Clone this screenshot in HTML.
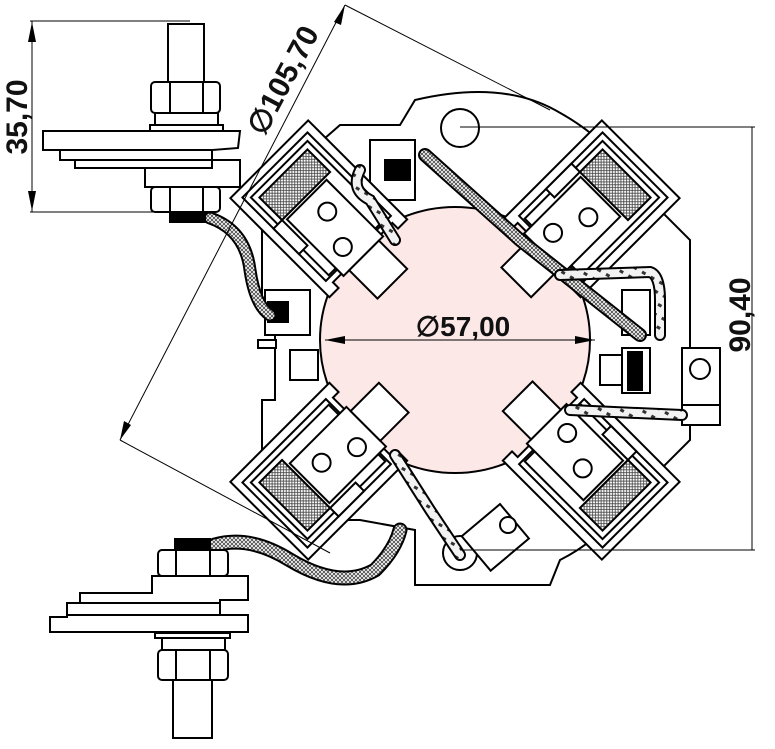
<!DOCTYPE html>
<html><head><meta charset="utf-8"><style>
html,body{margin:0;padding:0;background:#fff}
svg{display:block}
text{font-family:"Liberation Sans",sans-serif;font-weight:bold;fill:#111}
</style></head><body>
<svg width="775" height="749" viewBox="0 0 775 749" xmlns="http://www.w3.org/2000/svg">
<defs>
<pattern id="hx" width="4" height="4" patternUnits="userSpaceOnUse">
<rect width="4" height="4" fill="#fff"/><path d="M0 0L4 4M4 0L0 4" stroke="#444" stroke-width="0.8"/>
</pattern>
<pattern id="dt" width="10" height="10" patternUnits="userSpaceOnUse" patternTransform="rotate(30)">
<rect width="10" height="10" fill="#f2f2f2"/><rect x="2" y="3" width="4" height="3" fill="#333"/>
</pattern>
<g id="holder" stroke="#000" stroke-width="2" fill="#fff">
<path d="M-100 -55 L40 -55 L40 -42 L32 -42 L32 42 L40 42 L40 55 L-100 55 Z"/>
<rect x="-92" y="-46" width="118" height="92"/>
<rect x="-86" y="-40" width="110" height="80"/>
<rect x="-80" y="-34" width="32" height="68" fill="url(#hx)"/>
<rect x="-45" y="-26" width="80" height="56"/>
<circle cx="-22" cy="-4" r="9"/>
<circle cx="14" cy="10" r="9"/>
<rect x="35" y="-20" width="40" height="42"/>
<rect x="-48" y="34" width="36" height="12"/>
</g>
</defs>
<rect x="310" y="215" width="290" height="272" fill="#fde8e8"/>
<path d="M415 100 Q500 80 555 110 Q610 140 625 175 L690 240 L690 440 L630 500 Q600 540 560 560 L550 585 L415 585 L415 530 L360 520 L300 520 L262 482 L262 400 L275 400 L275 300 L262 300 L262 198 L300 160 L340 125 L400 125 Z" fill="#fff" stroke="#000" stroke-width="2"/>
<ellipse cx="455" cy="340" rx="135" ry="133" fill="#fde8e8" stroke="#000" stroke-width="2"/>
<circle cx="460" cy="128" r="19" fill="#fff" stroke="#000" stroke-width="2"/>
<circle cx="460" cy="553" r="17" fill="#fff" stroke="#000" stroke-width="2"/>
<g stroke="#000" stroke-width="2" fill="#fff">
<rect x="265" y="290" width="45" height="45"/><rect x="268" y="302" width="20" height="20" fill="#000"/>
<rect x="290" y="350" width="28" height="30"/><rect x="258" y="340" width="18" height="8"/>
<rect x="600" y="355" width="25" height="30"/><rect x="622" y="348" width="28" height="45"/><rect x="628" y="352" width="14" height="38" fill="#000"/>
<rect x="622" y="290" width="28" height="45"/>
<rect x="682" y="348" width="38" height="77"/><circle cx="700" cy="369" r="10"/><line x1="682" y1="405" x2="720" y2="405"/>
<rect x="370" y="140" width="45" height="60"/><rect x="385" y="160" width="25" height="20" fill="#000"/>
<rect x="470" y="515" width="50" height="45" transform="rotate(-40 495 537)"/><circle cx="508" cy="525" r="8"/>
</g>
<use href="#holder" transform="translate(340,230) rotate(45)"/>
<use href="#holder" transform="translate(570,230) rotate(135)"/>
<use href="#holder" transform="translate(340,450) rotate(-45)"/>
<use href="#holder" transform="translate(570,450) rotate(-135)"/>
<g fill="none" stroke-linecap="round">
<path d="M425 155 L520 240 L640 335" stroke="#000" stroke-width="14"/>
<path d="M425 155 L520 240 L640 335" stroke="url(#hx)" stroke-width="10"/>
<path d="M360 170 Q350 190 370 200 L395 240" stroke="#000" stroke-width="12"/>
<path d="M360 170 Q350 190 370 200 L395 240" stroke="url(#dt)" stroke-width="8"/>
<path d="M560 275 L650 272 Q660 275 660 300 L660 335" stroke="#000" stroke-width="12"/>
<path d="M560 275 L650 272 Q660 275 660 300 L660 335" stroke="url(#dt)" stroke-width="8"/>
<path d="M570 410 L682 415" stroke="#000" stroke-width="12"/>
<path d="M570 410 L682 415" stroke="url(#dt)" stroke-width="8"/>
<path d="M395 455 L430 510 L460 555" stroke="#000" stroke-width="12"/>
<path d="M395 455 L430 510 L460 555" stroke="url(#dt)" stroke-width="8"/>
<path d="M210 218 Q245 230 250 270 Q255 305 270 315" stroke="#000" stroke-width="13"/>
<path d="M210 218 Q245 230 250 270 Q255 305 270 315" stroke="url(#hx)" stroke-width="9"/>
<path d="M215 545 Q250 535 290 560 Q340 590 375 570 Q395 550 400 530" stroke="#000" stroke-width="15"/>
<path d="M215 545 Q250 535 290 560 Q340 590 375 570 Q395 550 400 530" stroke="url(#hx)" stroke-width="11"/>
</g>
<g stroke="#000" stroke-width="2" fill="#fff">
<rect x="168" y="24" width="36" height="58"/>
<rect x="151" y="82" width="69" height="31" rx="4"/><line x1="170" y1="82" x2="170" y2="113"/><line x1="203" y1="82" x2="203" y2="113"/>
<rect x="155" y="113" width="63" height="12"/><rect x="150" y="125" width="73" height="6"/>
<rect x="145" y="160" width="95" height="27"/>
<path d="M43 131 L240 131 L238 148 L212 150 L212 168 L75 168 L75 160 L60 160 L60 150 L43 150 Z"/>
<line x1="60" y1="150" x2="212" y2="150"/><line x1="75" y1="160" x2="212" y2="160"/>
<rect x="151" y="187" width="69" height="25" rx="4"/><line x1="170" y1="187" x2="170" y2="212"/><line x1="203" y1="187" x2="203" y2="212"/>
<rect x="170" y="212" width="35" height="10" fill="#000"/>
</g>
<g stroke="#000" stroke-width="2" fill="#fff">
<rect x="175" y="539" width="35" height="11" fill="#000"/>
<rect x="158" y="550" width="70" height="26" rx="4"/><line x1="176" y1="550" x2="176" y2="576"/><line x1="210" y1="550" x2="210" y2="576"/>
<path d="M152 576 L248 576 L248 600 L220 600 L220 615 L248 615 L248 632 L50 632 L50 617 L67 617 L67 603 L80 603 L80 593 L152 593 Z"/>
<line x1="80" y1="603" x2="220" y2="603"/><line x1="67" y1="615" x2="220" y2="615"/>
<rect x="155" y="633" width="75" height="5"/><rect x="162" y="638" width="63" height="12"/>
<rect x="158" y="650" width="70" height="30" rx="4"/><line x1="176" y1="650" x2="176" y2="680"/><line x1="210" y1="650" x2="210" y2="680"/>
<rect x="173" y="680" width="39" height="58"/>
</g>
<g stroke="#000" stroke-width="1" fill="none">
<line x1="30" y1="21" x2="190" y2="21"/><line x1="30" y1="212" x2="190" y2="212"/>
<line x1="32" y1="21" x2="32" y2="212"/>
<line x1="345" y1="5" x2="120" y2="440"/>
<line x1="345" y1="5" x2="550" y2="110"/>
<line x1="120" y1="440" x2="330" y2="553"/>
<line x1="460" y1="127" x2="755" y2="127"/><line x1="460" y1="550" x2="755" y2="550"/>
<line x1="752" y1="127" x2="752" y2="550"/>
<line x1="325" y1="340" x2="595" y2="340"/>
</g>
<g fill="#000">
<path d="M32 22 L28 42 L36 42 Z"/><path d="M32 211 L28 191 L36 191 Z"/>
<path d="M345 5 L334 22 L341 25 Z"/><path d="M120 440 L124 421 L131 425 Z"/>
<path d="M325 340 L345 336 L345 344 Z"/><path d="M595 340 L575 336 L575 344 Z"/>
</g>
<text x="0" y="0" font-size="30" transform="translate(27,117) rotate(-90)" text-anchor="middle">35,70</text>
<text x="0" y="0" font-size="30" transform="translate(292,85) rotate(-62)" text-anchor="middle">∅105,70</text>
<text x="463" y="336" font-size="28" text-anchor="middle">∅57,00</text>
<text x="0" y="0" font-size="30" transform="translate(750,315) rotate(-90)" text-anchor="middle">90,40</text>
</svg>
</body></html>
